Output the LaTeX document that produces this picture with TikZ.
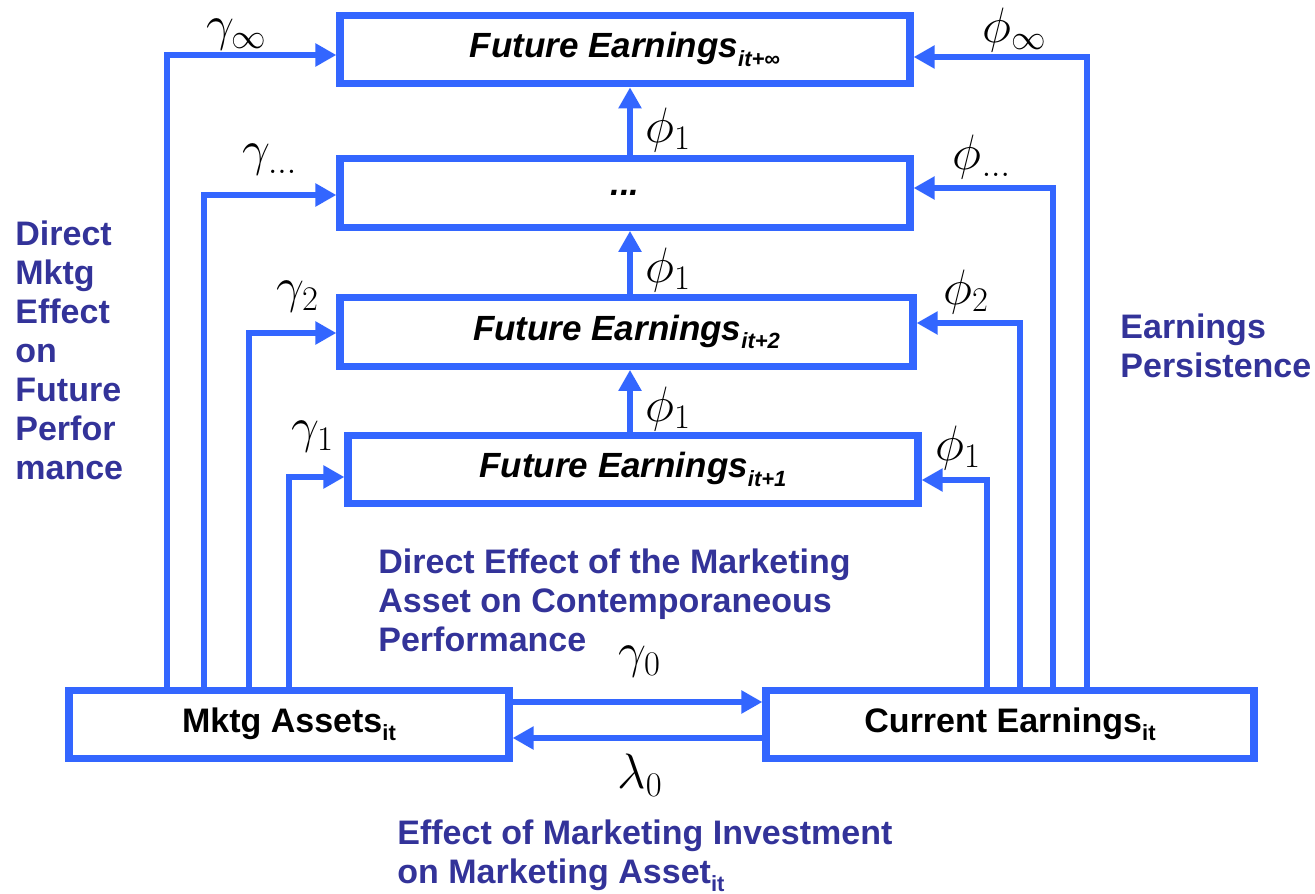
\documentclass[tikz,border=0pt]{standalone}
\usepackage[no-math]{fontspec}
\setmainfont{Liberation Sans}
\usetikzlibrary{arrows.meta}
\definecolor{edge}{RGB}{51,102,255}
\definecolor{notecol}{RGB}{51,51,153}
\newcommand{\lowsub}[1]{\raisebox{-0.45ex}{\fontsize{11}{11}\selectfont #1}}

\tikzset{
  box/.style={draw=edge, line width=3.6pt, fill=white, inner sep=0pt, minimum height=34.25pt,
    font=\fontsize{17.5}{20}\selectfont\bfseries\itshape},
  nowbox/.style={box, font=\fontsize{17}{20}\selectfont\bfseries},
  arr/.style={draw=edge, line width=3pt, -{Triangle[length=10.5pt,width=11pt]}},
  coef/.style={font=\fontsize{24}{28}\selectfont, inner sep=0pt},
  note/.style={text=notecol, font=\fontsize{17}{19.5}\selectfont\bfseries, align=left, anchor=north west, inner sep=0pt}
}

\begin{document}
\begin{tikzpicture}[x=0.5pt,y=-0.5pt]
\useasboundingbox (0,0) rectangle (1315,893);

% earnings boxes
\node[box, minimum width=285pt] (fInf) at (625,49.5) {Future Earnings\lowsub{it+∞}};
\node[box, minimum width=285pt] (fDots) at (625,193) {...};
\node[box, minimum width=286.5pt] (fTwo) at (626.5,332) {Future Earnings\lowsub{it+2}};
\node[box, minimum width=285pt] (fOne) at (633,469.5) {Future Earnings\lowsub{it+1}};
\node[nowbox, minimum width=220pt] (mkt) at (289,724.5) {Mktg Assets\lowsub{it}};
\node[nowbox, minimum width=244pt] (cur) at (1010,724.5) {Current Earnings\lowsub{it}};

% persistence chain
\draw[arr] (fOne.north -| 630,0) -- (fTwo.south -| 630,0);
\draw[arr] (fTwo.north -| 630,0) -- (fDots.south -| 630,0);
\draw[arr] (fDots.north -| 630,0) -- (fInf.south -| 630,0);
\node[coef] (pUpA) at (668,409) {$\phi_1$};
\node[coef] (pUpB) at (668,270) {$\phi_1$};
\node[coef] (pUpC) at (668,130) {$\phi_1$};

% marketing asset to future earnings
\draw[arr] (mkt.north -| 167,0) |- (fInf.west |- 0,55);
\draw[arr] (mkt.north -| 204,0) |- (fDots.west |- 0,195);
\draw[arr] (mkt.north -| 249,0) |- (fTwo.west |- 0,333);
\draw[arr] (mkt.north -| 289,0) |- (fOne.west |- 0,477);
\node[coef] (gInf) at (237,35) {$\gamma_\infty$};
\node[coef] (gDots) at (270,160) {$\gamma_{\ldots}$};
\node[coef] (gTwo) at (298,297) {$\gamma_2$};
\node[coef] (gOne) at (313,437) {$\gamma_1$};

% current earnings to future earnings
\draw[arr] (cur.north -| 1087,0) |- (fInf.east |- 0,57);
\draw[arr] (cur.north -| 1053,0) |- (fDots.east |- 0,188);
\draw[arr] (cur.north -| 1020,0) |- (fTwo.east |- 0,323);
\draw[arr] (cur.north -| 987,0) |- (fOne.east |- 0,480);
\node[coef] (pInf) at (1015,30) {$\phi_\infty$};
\node[coef] (pDots) at (982,157) {$\phi_{\ldots}$};
\node[coef] (pTwo) at (966,292) {$\phi_2$};
\node[coef] (pOne) at (958,448) {$\phi_1$};

% contemporaneous links
\draw[arr] (mkt.east |- 0,702) -- (cur.west |- 0,702);
\draw[arr] (cur.west |- 0,738) -- (mkt.east |- 0,738);
\node[coef] (gZero) at (640,662) {$\gamma_0$};
\node[coef] (lZero) at (640,775) {$\lambda_0$};

\node[note] (noteFut) at (15,220) {Direct\\Mktg\\Effect\\on\\Future\\Perfor\\mance};
\node[note] (notePers) at (1120,313) {Earnings\\Persistence};
\node[note] (noteCur) at (378,548) {Direct Effect of the Marketing\\Asset on Contemporaneous\\Performance};
\node[note] (noteInv) at (397,819) {Effect of Marketing Investment\\on Marketing Asset\lowsub{it}};
\end{tikzpicture}
\end{document}
